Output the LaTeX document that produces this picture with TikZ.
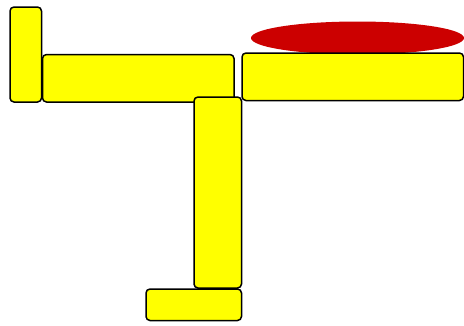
\documentclass[tikz,border=0pt]{standalone}
\usepackage{xcolor}
\usepackage{tikz}

\definecolor{blockyellow}{HTML}{FFFF00}
\definecolor{capred}{HTML}{CC0000}

\begin{document}
\begin{tikzpicture}[
    x=1pt, y=-1pt,
    block/.style={draw=black, line width=1.5pt, rounded corners=4pt, fill=blockyellow},
    redcap/.style={fill=capred, draw=none}
  ]
    \useasboundingbox (0,0) rectangle (464,325);

    % left part
    \draw[block] (10,7) rectangle (41.5,102);
    \draw[block] (42.5,54.5) rectangle (234,102);

    % right part, red cap behind
    \fill[redcap] (357.5,38) ellipse [x radius=106.5, y radius=16.5];
    \draw[block] (242,53) rectangle (463.5,100.5);

    % stem and foot
    \draw[block] (194,97) rectangle (241.5,288);
    \draw[block] (146,289) rectangle (241.5,320.5);
\end{tikzpicture}
\end{document}
